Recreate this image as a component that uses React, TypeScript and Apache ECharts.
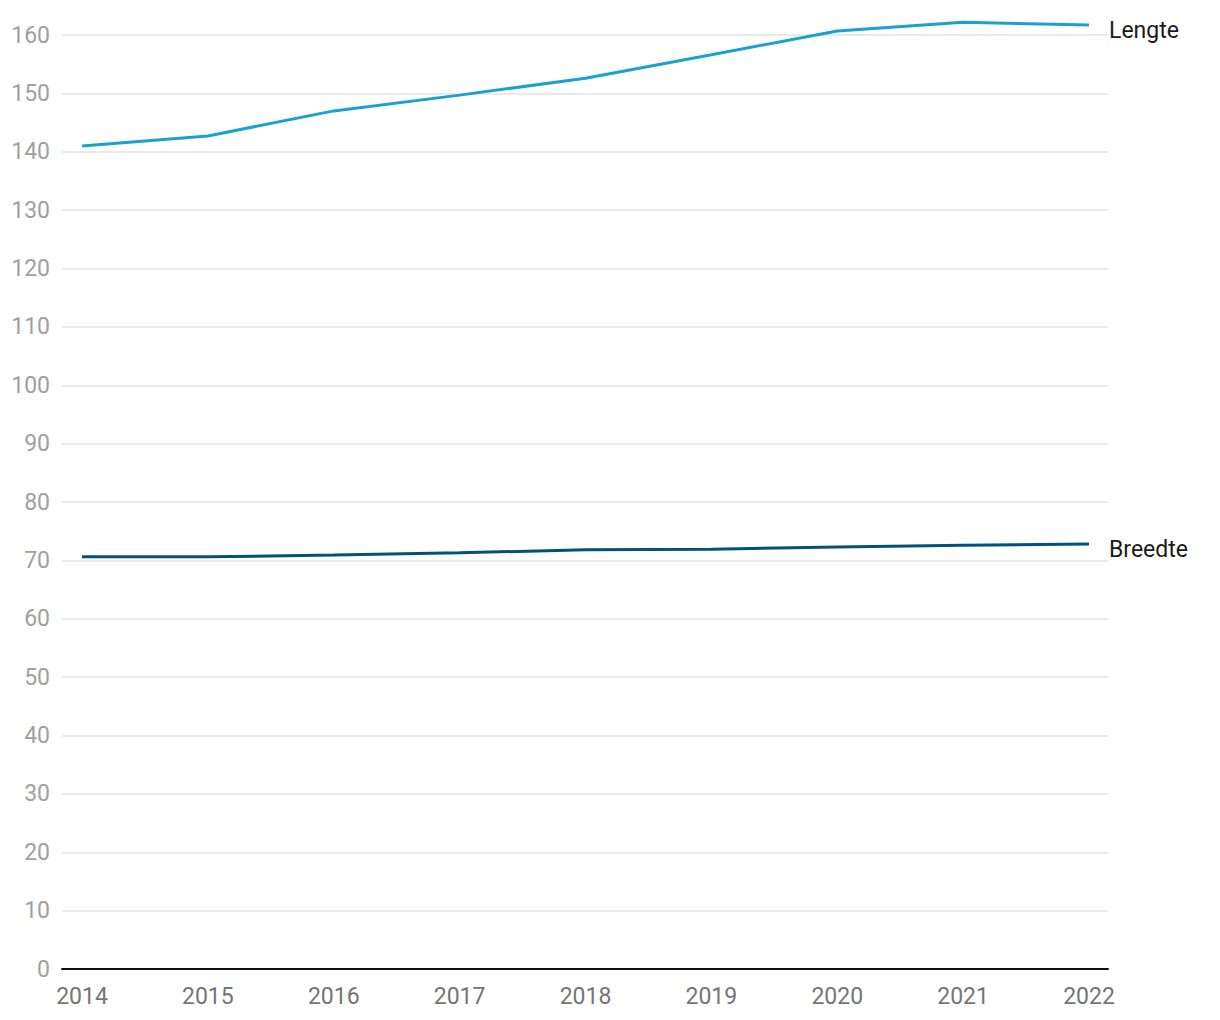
import React, { useEffect, useRef } from "react";
import * as echarts from "echarts";

const years = [2014, 2015, 2016, 2017, 2018, 2019, 2020, 2021, 2022];
const lengte = [141.0, 142.7, 147.0, 149.7, 152.6, 156.6, 160.7, 162.2, 161.7];
const breedte = [70.6, 70.6, 70.9, 71.3, 71.8, 71.9, 72.3, 72.6, 72.8];
const seriesNames = ["Lengte", "Breedte"];
const colors = ["#1aa1cf", "#00527a"];

export default function App() {
  const ref = useRef<HTMLDivElement>(null);
  useEffect(() => {
    if (!ref.current) return;
    const chart = echarts.init(ref.current, undefined, { renderer: "svg" });
    const mk = (name: string, vals: number[], color: string) => ({
      name,
      type: "line",
      xAxisIndex: 1,
      yAxisIndex: 1,
      clip: false,
      data: years.map((y, i) => [y, vals[i]]),
      showSymbol: false,
      symbol: "none",
      lineStyle: { color, width: 3 },
      itemStyle: { color },
      endLabel: {
        show: true,
        formatter: name,
        color: "#1a1a1a",
        fontSize: 23,
        fontFamily: "Roboto",
        distance: 20,
        offset: [0, 5],
      },
    });
    chart.setOption({
      animation: false,
      backgroundColor: "#ffffff",
      grid: [
        { left: 62, right: 112, top: 35, bottom: 51 },
        { left: 82, right: 131, top: 35, bottom: 51 },
      ],
      xAxis: [
        {
          type: "value",
          gridIndex: 0,
          min: 0,
          max: 1,
          axisLine: { show: true, lineStyle: { color: "#111111", width: 2 } },
          axisTick: { show: false },
          splitLine: { show: false },
          axisLabel: { show: false },
        },
        {
          type: "value",
          gridIndex: 1,
          min: 2014,
          max: 2022,
          interval: 1,
          axisLine: { show: false },
          axisTick: { show: false },
          splitLine: { show: false },
          axisLabel: {
            color: "#757575",
            fontSize: 23,
            fontFamily: "Roboto",
            margin: 16,
            formatter: (v: number) => String(v),
          },
        },
      ],
      yAxis: [
        {
          type: "value",
          gridIndex: 0,
          min: 0,
          max: 160,
          interval: 10,
          axisLine: { show: false },
          axisTick: { show: false },
          splitLine: { show: true, lineStyle: { color: "#e3e3e3", width: 1.5 } },
          axisLabel: { color: "#a0a0a0", fontSize: 23, fontFamily: "Roboto", margin: 12 },
        },
        {
          type: "value",
          gridIndex: 1,
          min: 0,
          max: 160,
          interval: 10,
          show: false,
          splitLine: { show: false },
        },
      ],
      series: [
        mk(seriesNames[0], lengte, colors[0]),
        mk(seriesNames[1], breedte, colors[1]),
      ],
    });
    return () => chart.dispose();
  }, []);
  return (
    <div
      ref={ref}
      style={{ position: "fixed", left: 0, top: 0, width: 1220, height: 1020, background: "#fff" }}
    />
  );
}
